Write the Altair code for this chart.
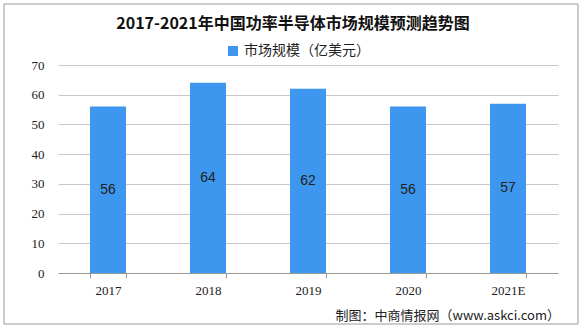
import altair as alt
import pandas as pd

years = ["2017", "2018", "2019", "2020", "2021E"]
values = [56, 64, 62, 56, 57]
series = "市场规模（亿美元）"
title_text = "2017-2021年中国功率半导体市场规模预测趋势图"
source_text = "制图：中商情报网（www.askci.com）"

df = pd.DataFrame({"year": years, "value": values, "series": [series] * len(years)})

base = alt.Chart(df)

x_axis = alt.Axis(labelAngle=0, labelFont="Liberation Serif", labelFontSize=13,
                  labelColor="#222", domainColor="#999", tickColor="#999",
                  tickBand="extent", tickSize=5, labelPadding=6, grid=False)
y_axis = alt.Axis(values=list(range(0, 71, 10)), labelFont="Liberation Serif",
                  labelFontSize=13, labelColor="#222", domain=False, ticks=False,
                  labelOverlap=False, labelPadding=14, gridColor="#c8c8c8")
x_scale = alt.Scale(paddingInner=0.64, paddingOuter=0.32)
y_scale = alt.Scale(domain=[0, 70])

bars = base.mark_bar(color="#3d97ee").encode(
    x=alt.X("year:N", sort=years, title=None, scale=x_scale, axis=x_axis),
    y=alt.Y("value:Q", title=None, scale=y_scale, axis=y_axis),
    fill=alt.Fill("series:N", scale=alt.Scale(range=["#3d97ee"]),
                  legend=alt.Legend(title=None, orient="none", legendX=168, legendY=-21,
                                    symbolType="square", symbolSize=100,
                                    labelFont="Noto Sans CJK SC", labelFontSize=14,
                                    labelColor="#222", symbolStrokeWidth=0)),
)

labels = base.transform_calculate(mid="datum.value / 2").mark_text(
    font="Liberation Sans", fontSize=14, color="#222"
).encode(
    x=alt.X("year:N", sort=years, title=None, scale=x_scale, axis=x_axis),
    y=alt.Y("mid:Q", title=None, scale=y_scale, axis=y_axis),
    text=alt.Text("value:Q"),
)

title = alt.Chart(pd.DataFrame({"t": [title_text]})).mark_text(
    font="Noto Sans CJK SC", fontSize=16, fontWeight="bold", color="#111",
    align="center", baseline="middle"
).encode(x=alt.value(235), y=alt.value(-41), text="t:N")

source = alt.Chart(pd.DataFrame({"t": [source_text]})).mark_text(
    font="Noto Sans CJK SC", fontSize=13, color="#222", align="right", baseline="middle"
).encode(x=alt.value(502), y=alt.value(251), text="t:N")

border = alt.Chart(pd.DataFrame({"a": [0]})).mark_rect(
    fill=None, stroke="#999", strokeWidth=1
).encode(x=alt.value(-54), x2=alt.value(520), y=alt.value(-61), y2=alt.value(259))

chart = (
    alt.layer(border, bars, labels, title, source)
    .properties(
        width=500, height=208,
        autosize=alt.AutoSizeParams(type="none"),
        padding={"left": 58, "top": 65, "right": 24, "bottom": 58},
    )
    .configure(background="white")
    .configure_view(stroke="transparent", strokeWidth=0)
    .configure_axisX(grid=False)
    .configure_axisY(domain=False)
)

chart.save("out.html", embed_options={"renderer": "svg", "actions": False})
